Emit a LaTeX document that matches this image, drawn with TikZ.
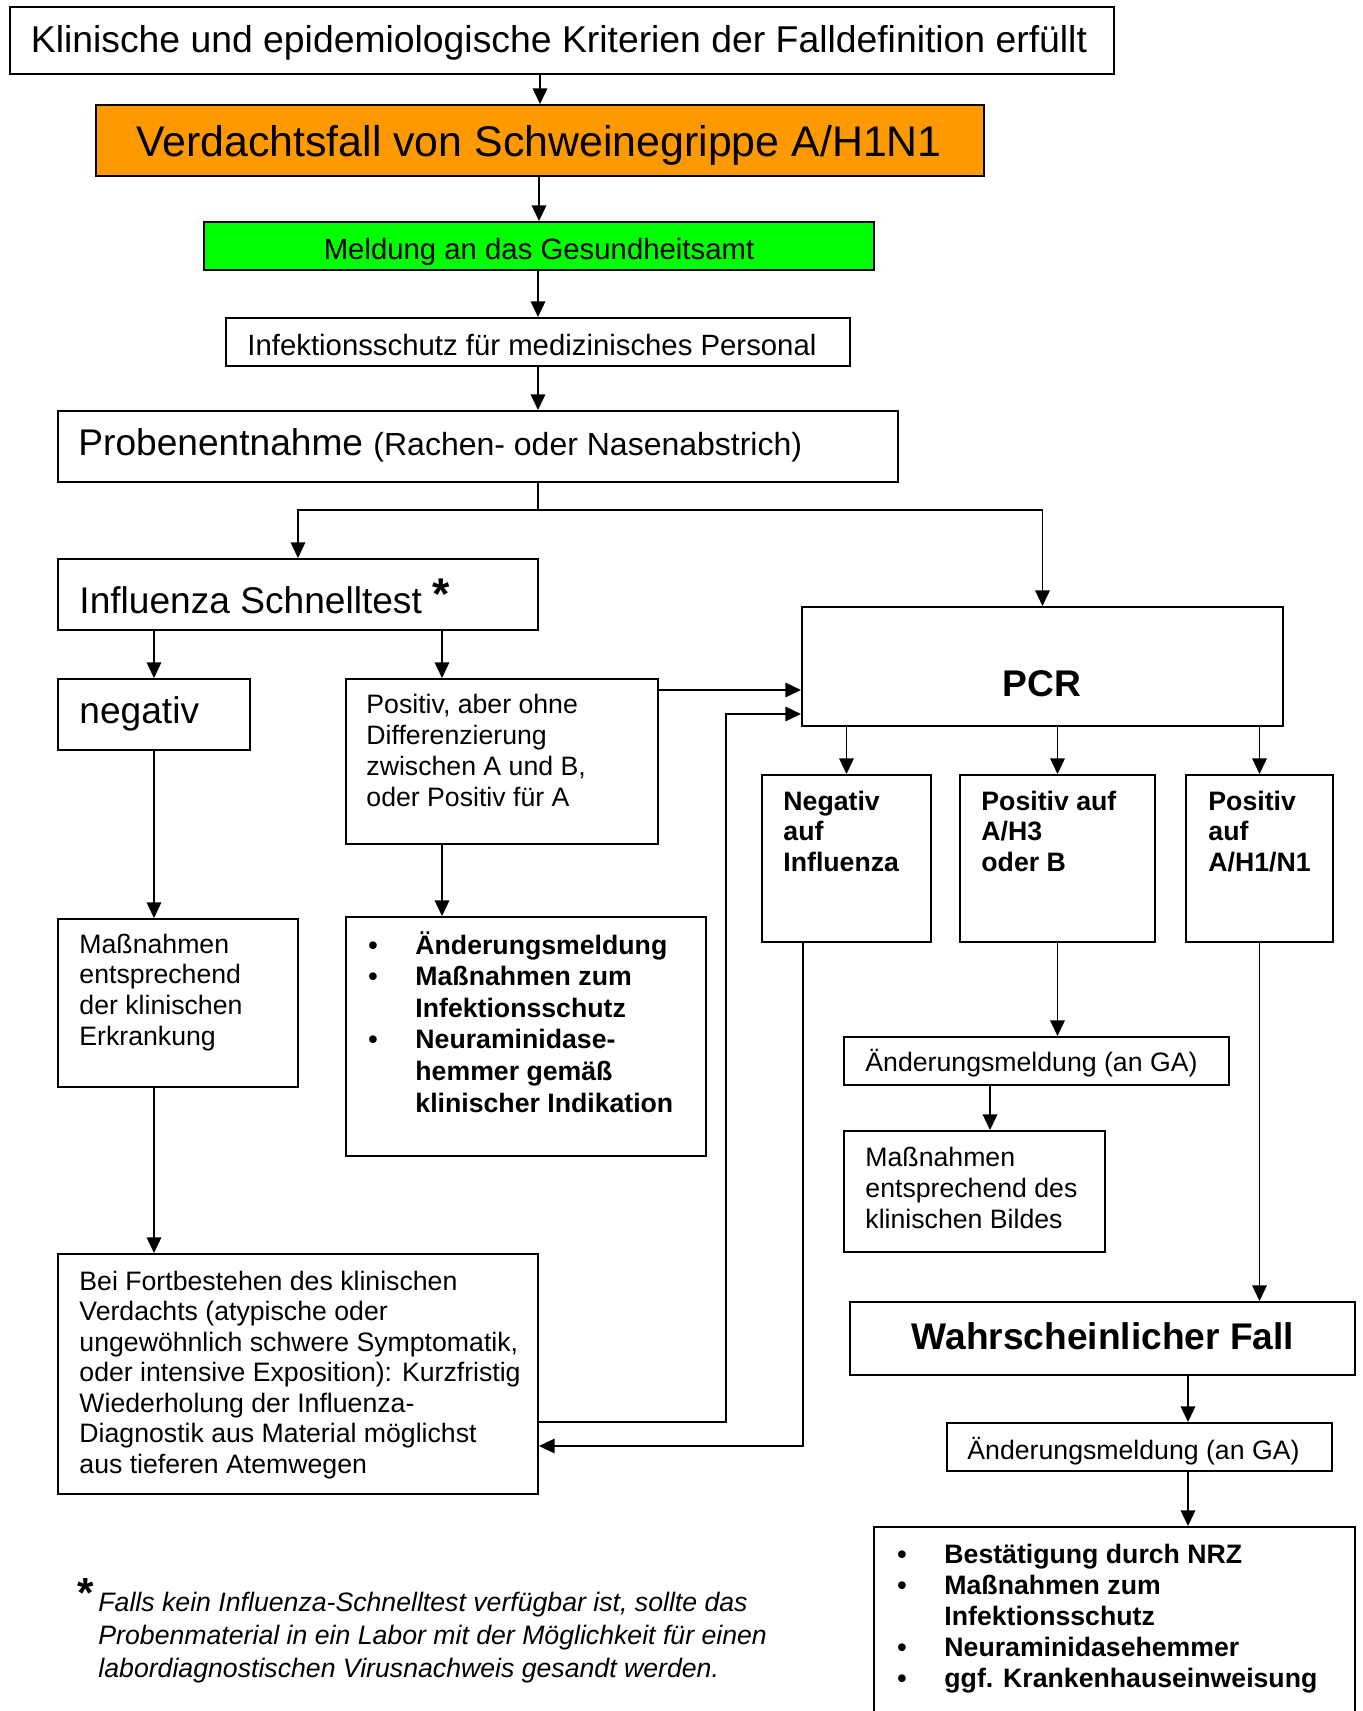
\documentclass[tikz,border=0pt]{standalone}
\usepackage{fontspec}
\setmainfont{Liberation Sans}
\usetikzlibrary{arrows.meta,calc,fit,positioning}
\newcommand{\gross}{\fontsize{16.7}{19}\selectfont}
\newcommand{\normal}{\fontsize{12}{13.8}\selectfont}
\newcommand{\bul}{\llap{\textbullet\hspace{17pt}}}

\begin{document}
\begin{tikzpicture}[x=0.45pt,y=-0.45pt,
  kasten/.style={draw=black,line width=0.9pt,inner sep=0pt},
  txt/.style={anchor=base west,inner sep=0pt,align=left,font=\normal},
  pfeil/.style={line width=0.8pt,-{Triangle[length=7pt,width=6.5pt]}},
  linie/.style={line width=0.8pt}]
\useasboundingbox (0,0) rectangle (1362,1711);
%Kaesten oben
\node[kasten,fit={(10,7) (1114,74)}] (krit) {};
\node[kasten,fill={rgb,255:red,255;green,153;blue,0},fit={(96,105) (984,176)}] (verd) {};
\node[kasten,fill={rgb,255:red,0;green,255;blue,0},fit={(204,222) (874,270)}] (melde) {};
\node[kasten,fit={(226,318) (850,366)}] (infekt) {};
\node[kasten,fit={(58,411) (898,482)}] (probe) {};
\node[txt,anchor=base,font=\fontsize{16.8}{19}\selectfont] (krit-t) at (559,52) {Klinische und epidemiologische Kriterien der Falldefinition erfüllt};
\node[txt,anchor=base,font=\fontsize{19.3}{22}\selectfont] (verd-t) at (539,156) {Verdachtsfall von Schweinegrippe A/H1N1};
\node[txt,anchor=base,font=\fontsize{13.2}{15}\selectfont] (melde-t) at (539,259) {Meldung an das Gesundheitsamt};
\node[txt,font=\fontsize{13.2}{15}\selectfont] (infekt-t) at (247,355) {Infektionsschutz für medizinisches Personal};
\node[txt,font=\gross] (probe-t) at (78,455) {Probenentnahme {\fontsize{14.4}{16}\selectfont (Rachen- oder Nasenabstrich)}};
%Schnelltest links (Textknoten sitzen auf der letzten Grundlinie)
\node[kasten,fit={(58,559) (538,630)}] (schnell) {};
\node[kasten,fit={(58,679) (250,750)}] (neg) {};
\node[kasten,fit={(346,679) (658,844)}] (posA) {};
\node[kasten,fit={(58,919) (298,1087)}] (massA) {};
\node[kasten,fit={(346,917) (706,1156)}] (listeA) {};
\node[kasten,fit={(58,1254) (538,1494)}] (bei) {};
\node[txt,font=\gross] (schnell-t) at (79,613) {Influenza Schnelltest \raisebox{1.5pt}{\fontsize{20}{20}\selectfont\bfseries *}};
\node[txt,font=\gross] (neg-t) at (79,723) {negativ};
\node[txt,font=\fontsize{12}{13.9}\selectfont] (posA-t) at (366,806) {Positiv, aber ohne\\Differenzierung\\zwischen A und B,\\oder Positiv für A};
\node[txt] (massA-t) at (79,1045) {Maßnahmen\\entsprechend\\der klinischen\\Erkrankung};
\node[txt,font=\fontsize{12}{14.2}\selectfont\bfseries] (listeA-t) at (415,1112) {\bul Änderungsmeldung\\\bul Maßnahmen zum\\Infektionsschutz\\\bul Neuraminidase-\\hemmer gemäß\\klinischer Indikation};
\node[txt,font=\fontsize{12}{13.7}\selectfont] (bei-t) at (79,1473) {Bei Fortbestehen des klinischen\\Verdachts (atypische oder\\ungewöhnlich schwere Symptomatik,\\oder intensive Exposition): Kurzfristig\\Wiederholung der Influenza-\\Diagnostik aus Material möglichst\\aus tieferen Atemwegen};
%PCR rechts
\node[kasten,fit={(802,607) (1283,726)}] (pcr) {};
\node[kasten,fit={(762,775) (931,942)}] (negInf) {};
\node[kasten,fit={(960,775) (1155,942)}] (h3) {};
\node[kasten,fit={(1186,775) (1333,942)}] (h1) {};
\node[kasten,fit={(844,1037) (1229,1085)}] (aend1) {};
\node[kasten,fit={(844,1131) (1105,1252)}] (massB) {};
\node[kasten,fit={(850,1302) (1355,1375)}] (wahr) {};
\node[kasten,fit={(947,1423) (1332,1471)}] (aend2) {};
\node[kasten,fit={(874,1527) (1355,1730)}] (liste) {};
\node[txt,anchor=base,font=\gross\bfseries] (pcr-t) at (1042,696) {PCR};
\node[txt,font=\fontsize{12}{13.7}\selectfont\bfseries] (negInf-t) at (783,871) {Negativ\\auf\\Influenza};
\node[txt,font=\fontsize{12}{13.7}\selectfont\bfseries] (h3-t) at (981,871) {Positiv auf\\A/H3\\oder B};
\node[txt,font=\fontsize{12}{13.7}\selectfont\bfseries] (h1-t) at (1208,871) {Positiv\\auf\\A/H1/N1};
\node[txt] (aend1-t) at (865,1071) {Änderungsmeldung (an GA)};
\node[txt,font=\fontsize{12}{13.9}\selectfont] (massB-t) at (865,1228) {Maßnahmen\\entsprechend des\\klinischen Bildes};
\node[txt,anchor=base,font=\gross\bfseries] (wahr-t) at (1103,1349) {Wahrscheinlicher Fall};
\node[txt] (aend2-t) at (967,1459) {Änderungsmeldung (an GA)};
\node[txt,font=\fontsize{12}{13.9}\selectfont\bfseries] (liste-t) at (944,1687) {\bul Bestätigung durch NRZ\\\bul Maßnahmen zum\\Infektionsschutz\\\bul Neuraminidasehemmer\\\bul ggf. Krankenhauseinweisung};
%Fussnote
\node[txt,font=\fontsize{12}{14.8}\selectfont\itshape] (fuss) at (98,1677) {\llap{\upshape\bfseries\fontsize{19}{19}\selectfont\raisebox{1.5pt}{*}\hspace{2pt}}Falls kein Influenza-Schnelltest verfügbar ist, sollte das\\Probenmaterial in ein Labor mit der Möglichkeit für einen\\labordiagnostischen Virusnachweis gesandt werden.};
%Pfeile
\coordinate (gabel) at (538,510);
\coordinate (xa) at (442,0);
\coordinate (xn) at (803,0);
\coordinate (xc) at (990,0);
\coordinate (xb) at (1188,0);
\coordinate (ya) at (0,690);
\coordinate (yr) at (0,1422);
\coordinate (yn) at (0,1446);
\coordinate (rueck) at (726,714);
\draw[pfeil] (verd.north |- krit.south) -- (verd.north);
\draw[pfeil] (melde.north |- verd.south) -- (melde.north);
\draw[pfeil] (infekt.north |- melde.south) -- (infekt.north);
\draw[pfeil] (gabel |- infekt.south) -- (gabel |- probe.north);
\draw[linie] (gabel |- probe.south) -- (gabel);
\draw[pfeil] (gabel) -| (schnell.north);
\draw[pfeil] (gabel) -| (pcr.north);
\draw[pfeil] (neg.north |- schnell.south) -- (neg.north);
\draw[pfeil] (xa |- schnell.south) -- (xa |- posA.north);
\draw[pfeil] (neg.south) -- (neg.south |- massA.north);
\draw[pfeil] (xa |- posA.south) -- (xa |- listeA.north);
\draw[pfeil] (neg.south |- massA.south) -- (neg.south |- bei.north);
\draw[pfeil] (posA.east |- ya) -- (pcr.west |- ya);
\draw[pfeil] (bei.east |- yr) -| (rueck) -- (pcr.west |- rueck);
\draw[pfeil] (xn |- negInf.south) |- (bei.east |- yn);
\draw[pfeil] (negInf.north |- pcr.south) -- (negInf.north);
\draw[pfeil] (h3.north |- pcr.south) -- (h3.north);
\draw[pfeil] (h1.north |- pcr.south) -- (h1.north);
\draw[pfeil] (h3.south) -- (h3.south |- aend1.north);
\draw[pfeil] (xc |- aend1.south) -- (xc |- massB.north);
\draw[pfeil] (h1.south) -- (h1.south |- wahr.north);
\draw[pfeil] (xb |- wahr.south) -- (xb |- aend2.north);
\draw[pfeil] (xb |- aend2.south) -- (xb |- liste.north);
\end{tikzpicture}
\end{document}
